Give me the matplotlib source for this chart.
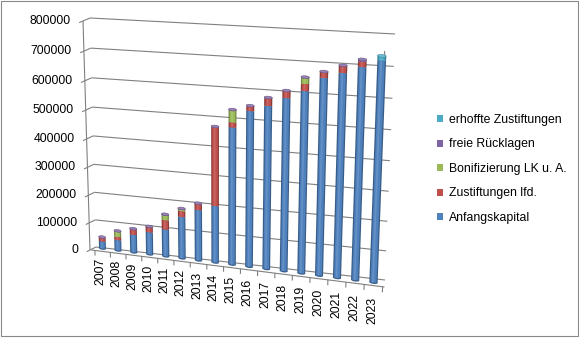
import numpy as np
import matplotlib
matplotlib.use("Agg")
import matplotlib.pyplot as plt
import matplotlib.transforms as mtransforms
from matplotlib.patches import Polygon, Ellipse, Rectangle, Patch

plt.rcParams['font.family'] = ['Liberation Sans', 'DejaVu Sans']

# data
years = ['2007', '2008', '2009', '2010', '2011', '2012', '2013', '2014', '2015',
         '2016', '2017', '2018', '2019', '2020', '2021', '2022', '2023']
anfangskapital = [25000, 36000, 61000, 76000, 92000, 141000, 171000, 191000, 462000,
                  522000, 544000, 575000, 603000, 651000, 672000, 696000, 722000]
zustiftungen = [12000, 11000, 17000, 17000, 32000, 20000, 20000, 266000, 17000,
                15000, 25000, 23000, 24000, 19000, 22000, 18000, 0]
bonifizierung = [0, 17000, 0, 0, 16000, 6000, 0, 0, 40000,
                 0, 0, 0, 20000, 0, 0, 0, 0]
ruecklagen = [3000, 4000, 4000, 3000, 4000, 3000, 3000, 3000, 3000,
              3000, 3000, 2000, 2000, 2000, 3000, 7000, 0]
erhoffte = [0, 0, 0, 0, 0, 0, 0, 0, 0,
            0, 0, 0, 0, 0, 0, 0, 15000]

series = [
    ('Anfangskapital', anfangskapital, '#4F81BD'),
    ('Zustiftungen lfd.', zustiftungen, '#C0504D'),
    ('Bonifizierung LK u. A.', bonifizierung, '#9BBB59'),
    ('freie Rücklagen', ruecklagen, '#8064A2'),
    ('erhoffte Zustiftungen', erhoffte, '#4BACC6'),
]
yticks = [0, 100000, 200000, 300000, 400000, 500000, 600000, 700000, 800000]
vmax = 800000


class PlaneTransform(mtransforms.Transform):
    """Maps (u, value) of a chart plane to pixel coords of the 3D-looking chart."""
    input_dims = 2
    output_dims = 2
    is_separable = False
    has_inverse = False

    def __init__(self, func):
        super().__init__()
        self.func = func

    def transform_non_affine(self, values):
        values = np.asarray(values, dtype=float).reshape(-1, 2)
        x, y = self.func(values[:, 0], values[:, 1])
        return np.column_stack([x, y])


def wall_frac(v):
    # slight perspective stretch towards the top
    u = v / 100000.0
    return (26.79 * u + 0.214 * u ** 2) / 228.0


def bar_plane(i, v):
    scale = 28.6 + 2.15 * i / 16
    h = v / 100000.0 * scale
    lean = -0.03 + 0.067 * i / 16
    xb = 102.5 + 15.53 * i + 0.09375 * i * (i - 1)
    yb = 248.5 + 1.89 * i + 0.015625 * i * (i - 1)
    return xb + lean * h, yb - h


def back_wall(t, v):
    f = wall_frac(v)
    xl, yl = 96 - 6 * f, 247 - 229 * f
    xr, yr = 385 + 10 * f, 280 - 246 * f
    return xl + t * (xr - xl), yl + t * (yr - yl)


def side_wall(d, v):
    f = wall_frac(v)
    xf, yf = 90 - 7 * f, 250 - 229 * f
    xb, yb = 96 - 6 * f, 247 - 229 * f
    return xf + d * (xb - xf), yf + d * (yb - yf)


def shade(color, k):
    c = np.array(matplotlib.colors.to_rgb(color))
    if k < 1:
        return tuple(c * k)
    return tuple(c + (1 - c) * (k - 1))


fig = plt.figure(figsize=(5.79, 3.38), dpi=100)
ax = fig.add_axes([0, 0, 1, 1])
ax.set_xlim(0, 579)
ax.set_ylim(338, 0)
ax.axis('off')

bar_t = PlaneTransform(bar_plane) + ax.transData
wall_t = PlaneTransform(back_wall) + ax.transData
side_t = PlaneTransform(side_wall) + ax.transData

grid_kw = dict(color='#808080', lw=0.8, zorder=1, solid_capstyle='butt')

# walls: gridlines, axis line, ticks, labels
for v in yticks:
    ax.plot([0, 1], [v, v], transform=wall_t, **grid_kw)
    ax.plot([0, 1], [v, v], transform=side_t, **grid_kw)
    ax.plot([-0.55, 0], [v, v], transform=side_t, **grid_kw)
    ax.annotate(str(v), xy=(0, v), xycoords=side_t, xytext=(-12, 0),
                textcoords='offset pixels', ha='right', va='center', fontsize=8.8)
ax.plot([0, 0], [0, vmax], transform=side_t, **grid_kw)

# floor front edge and category ticks
n = len(years)
ax.plot([-0.75, n - 0.4], [-10000, -10000], transform=bar_t, **grid_kw)
front_right = bar_t.transform((n - 0.4, -10000))
back_right = wall_t.transform((1, 0))
ax.plot([front_right[0], back_right[0]], [front_right[1], back_right[1]], **grid_kw)
for k in range(n + 1):
    ax.plot([k - 0.5, k - 0.5], [-10000, -28000], transform=bar_t, **grid_kw)

for i, year in enumerate(years):
    ax.annotate(year, xy=(i, -10000), xycoords=bar_t,
                xytext=(-2 + 1.5 * i / 16, -(6.5 + 4.5 * i / 16)),
                textcoords='offset pixels', rotation=90, ha='center', va='top',
                fontsize=8.8)

# cylinders
w = 0.45
cap_h = 9000
for i in range(n):
    z = 3 + i * 0.01
    ax.add_patch(Ellipse((i, 0), w, cap_h, transform=bar_t,
                         facecolor=shade('#4F81BD', 0.72), lw=0, zorder=z))
    bottom = 0
    top_color = None
    for name, vals, color in series:
        val = vals[i]
        if val <= 0:
            continue
        top = bottom + val
        for frac, k in [(1.0, 0.72), (0.7, 1.0), (0.22, 1.12)]:
            hw = w * frac / 2
            off = -0.06 * w if frac < 0.3 else 0
            ax.add_patch(Polygon([(i - hw + off, bottom), (i + hw + off, bottom),
                                  (i + hw + off, top), (i - hw + off, top)],
                                 closed=True, transform=bar_t,
                                 facecolor=shade(color, k), lw=0, zorder=z))
        bottom = top
        top_color = color
    ax.add_patch(Ellipse((i, bottom), w, cap_h, transform=bar_t,
                         facecolor=shade(top_color, 1.2), edgecolor=shade(top_color, 0.8),
                         lw=0.4, zorder=z))

# legend, newest series on top
handles = [Patch(facecolor=color, label=name) for name, vals, color in series[::-1]]
fig.legend(handles=handles, loc='upper left', bbox_to_anchor=(437 / 579, 1 - 114 / 338),
           frameon=False, fontsize=8.8, handlelength=0.5, handleheight=0.5,
           handletextpad=0.45, labelspacing=1.02, borderpad=0, borderaxespad=0)

# outer chart border
ax.add_patch(Rectangle((0.5, 0.5), 577, 335, fill=False, edgecolor='#898989', lw=0.8))

fig.savefig('out.png', dpi=100)
